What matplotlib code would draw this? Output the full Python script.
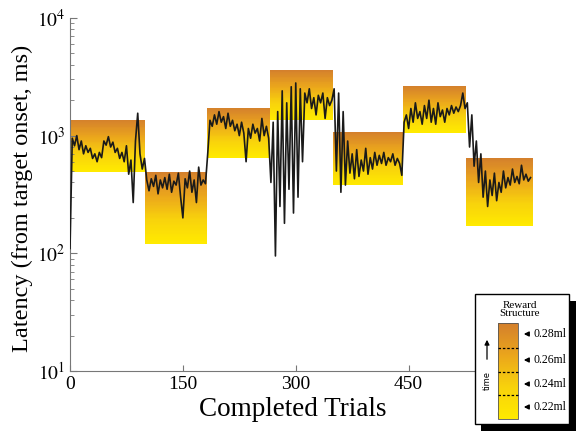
"""
Latency vs completed trials, with reward-structure blocks
"""

import numpy as np
import matplotlib
matplotlib.use("Agg")
import matplotlib.pyplot as plt
from matplotlib.colors import LinearSegmentedColormap
from matplotlib.patches import Rectangle


# Latency (ms) per segment, one reading every 3 trials
seg1 = [110, 950, 820, 1000, 760, 900, 700, 820, 720, 780, 640, 700, 600, 720, 650, 900, 830,
        980, 800, 880, 720, 780, 640, 720, 600, 820, 470, 620, 270, 900, 1550, 700, 520, 640]
seg2 = [420, 340, 430, 370, 460, 320, 420, 360, 440, 350, 470, 330, 410, 380, 480, 300, 200,
        430, 360, 500, 330, 420, 270, 540, 380, 420, 390]
seg3 = [700, 1350, 1200, 1500, 1250, 1600, 1300, 1450, 1150, 1550, 1200, 1350, 1100, 1250,
        1000, 1300, 1050, 600, 1150, 950, 1250, 1050, 1150, 900, 1400, 1000, 1200, 950]
seg4 = [400, 1300, 95, 1600, 250, 2400, 180, 1900, 350, 2600, 220, 2800, 300, 2500, 600, 2300,
        1900, 2500, 1700, 2100, 1500, 2200, 1900, 2300, 1400, 2100, 1800, 2000]
seg5 = [2500, 500, 2300, 330, 1600, 380, 900, 480, 700, 430, 760, 450, 620, 500, 780, 470, 650,
        520, 720, 560, 680, 580, 720, 560, 650, 600, 700, 560, 640, 580, 460]
seg6 = [1300, 1500, 1150, 1700, 1300, 1900, 1400, 1600, 1250, 1800, 1400, 2000, 1300, 1700,
        1250, 1900, 1450, 1650, 1300, 1700, 1500, 1800, 1550, 1750, 1600, 1800, 2300, 1700]
seg7 = [1900, 800, 1500, 550, 900, 400, 700, 300, 500, 250, 420, 310, 480, 280, 400, 330, 500,
        360, 440, 380, 520, 400, 450, 390, 560, 420, 470, 410, 440]

latency = seg1 + seg2 + seg3 + seg4 + seg5 + seg6 + seg7
trials = np.arange(len(latency)) * 3

# Reward blocks: trial range and latency window (ms)
block_start = [0, 100, 182, 266, 349, 442, 526]
block_end = [100, 182, 266, 349, 442, 526, 615]
block_top = [1370, 495, 1730, 3620, 1080, 2650, 650]
block_bottom = [495, 121, 650, 1370, 377, 1060, 169]

reward_labels = ["0.28ml", "0.26ml", "0.24ml", "0.22ml"]

plt.rcParams["font.family"] = ["Liberation Serif", "DejaVu Serif"]
plt.rcParams["mathtext.fontset"] = "stix"

cmap = LinearSegmentedColormap.from_list(
    "reward", ["#ffea00", "#f8d20c", "#eba61c", "#d4802c"])

fig = plt.figure(figsize=(5.8, 4.37), dpi=100)
ax = fig.add_axes([0.1207, 0.151, 0.964 - 0.1207, 0.959 - 0.151])

# Gradient blocks
for s, e, t, b in zip(block_start, block_end, block_top, block_bottom):
    yy = np.geomspace(b, t, 60)
    cc = np.linspace(0, 1, 59).reshape(-1, 1)
    ax.pcolormesh([s, e], yy, cc, cmap=cmap, shading="flat", zorder=1)

ax.plot(trials, latency, color="#1a1a1a", lw=1.2, zorder=3)

ax.set_yscale("log")
ax.set_ylim(10, 10000)
ax.set_xlim(0, 650)
ax.set_xticks([0, 150, 300, 450, 600])
ax.set_yticks([10, 100, 1000, 10000])
ax.set_yticklabels(["$10^1$", "$10^2$", "$10^3$", "$10^4$"])
ax.tick_params(axis="both", which="both", direction="in", labelsize=14, color="#777777")
ax.tick_params(axis="y", which="major", length=5)
ax.tick_params(axis="y", which="minor", length=3)
ax.tick_params(axis="x", length=4)
for side in ["top", "right"]:
    ax.spines[side].set_visible(False)
for side in ["left", "bottom"]:
    ax.spines[side].set_color("#777777")

ax.set_xlabel("Completed Trials", fontsize=19.5)
ax.xaxis.set_label_coords(0.456, -0.075)
ax.set_ylabel("Latency (from target onset, ms)", fontsize=17.5)
ax.yaxis.set_label_coords(-0.076, 0.49)

# Reward structure key, drawn in pixel coordinates on an overlay
ov = fig.add_axes([0, 0, 1, 1], zorder=10)
ov.set_xlim(0, 580)
ov.set_ylim(437, 0)
ov.axis("off")
ov.add_patch(Rectangle((481, 301), 95, 130, facecolor="black", edgecolor="none"))
ov.add_patch(Rectangle((475, 294), 94, 130, facecolor="white", edgecolor="black", lw=1))
ov.text(520, 305, "Reward", ha="center", va="center", fontsize=8)
ov.text(520, 314, "Structure", ha="center", va="center", fontsize=8)
grad = np.linspace(1, 0, 100).reshape(-1, 1)
ov.imshow(grad, cmap=cmap, extent=[498, 518, 419, 323], aspect="auto", zorder=11)
ov.add_patch(Rectangle((498, 323), 20, 96, facecolor="none", edgecolor="#555555", lw=0.6, zorder=12))
for yd in [348, 372, 395]:
    ov.plot([498, 518], [yd, yd], color="black", lw=0.9, ls=(0, (2, 1.5)), zorder=12)
for lab, yl in zip(reward_labels, [334, 360, 384, 407]):
    ov.annotate("", xy=(521, yl), xytext=(530, yl),
                arrowprops=dict(arrowstyle="-|>", color="black", lw=1.0, mutation_scale=7))
    ov.text(533, yl, lab, ha="left", va="center", fontsize=8.5)
ov.annotate("", xy=(487, 337), xytext=(487, 362),
            arrowprops=dict(arrowstyle="-|>", color="black", lw=0.9, mutation_scale=7))
ov.text(487, 380, "time", rotation=90, ha="center", va="center", fontsize=6,
        family=["DejaVu Sans"])

fig.savefig("out.png", dpi=100)
